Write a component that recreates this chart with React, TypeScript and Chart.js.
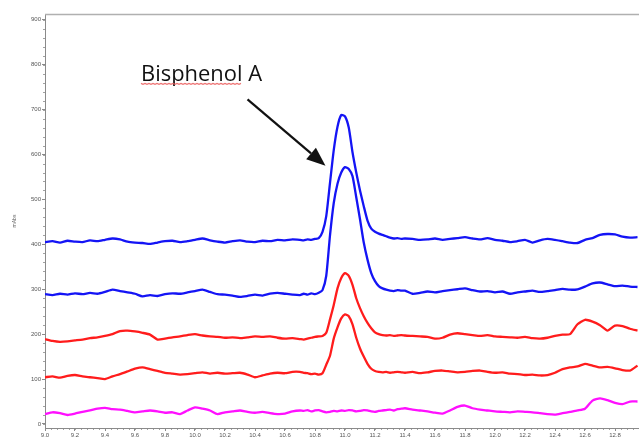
import React, { useEffect, useRef } from "react";
import { Chart, registerables } from "chart.js";

Chart.register(...registerables);

const times = [
  9.0, 9.05, 9.1, 9.15, 9.2, 9.25, 9.3, 9.35, 9.4, 9.45,
  9.5, 9.55, 9.6, 9.65, 9.7, 9.75, 9.8, 9.85, 9.9, 9.95,
  10.0, 10.05, 10.1, 10.15, 10.2, 10.25, 10.3, 10.35, 10.4, 10.45,
  10.5, 10.55, 10.6, 10.65,
  10.7, 10.725, 10.75, 10.775, 10.8, 10.825, 10.85, 10.875, 10.9, 10.925,
  10.95, 10.975, 11.0, 11.025, 11.05, 11.075, 11.1, 11.125, 11.15, 11.175,
  11.2, 11.225, 11.25, 11.275, 11.3, 11.325, 11.35, 11.375,
  11.4, 11.45, 11.5, 11.55, 11.6, 11.65, 11.7, 11.75, 11.8, 11.85,
  11.9, 11.95, 12.0, 12.05, 12.1, 12.15, 12.2, 12.25, 12.3, 12.35,
  12.4, 12.45, 12.5, 12.55, 12.6, 12.65, 12.7, 12.75, 12.8, 12.85,
  12.9, 12.95,
];

const blueTop = [
  405, 407, 404, 408, 406, 405, 409, 407, 410, 413,
  411, 406, 404, 403, 401, 404, 407, 408, 405, 407,
  410, 413, 409, 406, 404, 407, 409, 406, 405, 408,
  407, 410, 409, 411,
  410, 409, 411, 410, 412, 414, 428, 463, 537, 610,
  662, 688, 685, 660, 605, 560, 520, 485, 453, 435,
  428, 424, 421, 418, 415, 413, 414, 412,
  413, 412, 410, 411, 413, 410, 412, 414, 416, 413,
  411, 414, 410, 408, 405, 407, 410, 404, 409, 412,
  410, 407, 404, 403, 410, 414, 421, 423, 422, 417,
  415, 416,
];

const blueLower = [
  289, 287, 290, 288, 291, 289, 292, 290, 294, 299,
  296, 293, 290, 284, 287, 285, 289, 291, 290, 293,
  296, 299, 294, 289, 288, 286, 283, 285, 288, 286,
  290, 292, 290, 288,
  287, 290, 288, 291, 289, 292, 298, 330, 420, 492,
  535, 560, 572, 568, 552, 505, 456, 404, 366, 336,
  318, 307, 302, 299, 297, 296, 298, 297,
  297, 290, 292, 295, 293, 296, 298, 300, 302, 298,
  295, 296, 293, 295, 290, 293, 295, 297, 294, 296,
  298, 301, 299, 300, 306, 313, 315, 311, 307, 308,
  306, 305,
];

const redUpper = [
  189, 185, 183, 184, 186, 188, 191, 193, 196, 200,
  207, 208, 206, 203, 199, 188, 190, 193, 195, 198,
  200, 197, 195, 194, 192, 193, 191, 193, 195, 194,
  195, 192, 190, 191,
  189, 188, 190, 192, 194, 195, 196, 203, 233, 265,
  302, 325, 336, 330, 310, 280, 258, 240, 225, 213,
  204, 200, 198, 197, 198, 196, 197, 198,
  197, 196, 195, 194, 190, 192, 199, 202, 200, 198,
  196, 198, 195, 194, 193, 192, 194, 191, 190, 192,
  196, 199, 200, 222, 232, 228, 220, 208, 219, 218,
  212, 208,
];

const redLower = [
  104, 106, 103, 107, 109, 106, 104, 102, 100, 106,
  111, 117, 123, 126, 122, 118, 114, 112, 110, 111,
  113, 115, 112, 114, 112, 113, 114, 110, 104, 108,
  112, 114, 113, 116,
  116, 114, 113, 111, 112, 110, 113, 132, 152, 190,
  215, 235, 244, 240, 222, 192, 168, 150, 134, 123,
  118, 116, 115, 116, 114, 115, 116, 115,
  114, 116, 113, 115, 118, 119, 117, 115, 116, 118,
  119, 116, 114, 115, 112, 111, 109, 110, 108, 109,
  114, 122, 126, 128, 134, 130, 126, 127, 124, 120,
  119, 130,
];

const magenta = [
  22, 26, 24, 20, 23, 27, 30, 34, 36, 33,
  32, 29, 26, 28, 30, 28, 25, 26, 22, 30,
  37, 34, 30, 22, 26, 28, 30, 27, 25, 27,
  24, 22, 23, 28,
  30, 29, 31, 28, 30, 31, 28, 26, 27, 29,
  28, 30, 29, 31, 30, 28, 29, 31, 30, 28,
  27, 29, 30, 31, 32, 30, 33, 34,
  35, 32, 30, 28, 25, 23, 30, 38, 41, 35,
  32, 30, 28, 27, 26, 28, 27, 26, 24, 22,
  21, 24, 27, 30, 34, 52, 57, 53, 47, 44,
  50, 50,
];

const yTicks = [0, 100, 200, 300, 400, 500, 600, 700, 800, 900];
const xTicks = [
  9.0, 9.2, 9.4, 9.6, 9.8, 10.0, 10.2, 10.4, 10.6, 10.8,
  11.0, 11.2, 11.4, 11.6, 11.8, 12.0, 12.2, 12.4, 12.6, 12.8,
];

const annotationText = "Bisphenol A";
const annotationTextPos = { x: 9.64, y: 764 };
const arrowStart = { x: 10.35, y: 723 };
const arrowTip = { x: 10.87, y: 575 };
const yTitle = "mAbs";

const series = [
  { label: "S1", data: blueTop, color: "#1414f5" },
  { label: "S2", data: blueLower, color: "#1414f5" },
  { label: "S3", data: redUpper, color: "#ff1c1c" },
  { label: "S4", data: redLower, color: "#ff1c1c" },
  { label: "S5", data: magenta, color: "#ff10ff" },
];

const decorPlugin = {
  id: "decor",
  afterDraw(chart: any) {
    const { ctx, chartArea, scales } = chart;
    const xs = scales.x;
    const ys = scales.y;
    ctx.save();
    ctx.strokeStyle = "#b0b0b0";
    ctx.lineWidth = 1.5;
    ctx.beginPath();
    ctx.moveTo(chartArea.left, chartArea.top + 0.5);
    ctx.lineTo(chartArea.right, chartArea.top + 0.5);
    ctx.stroke();
    ctx.strokeStyle = "#8a8a8a";
    ctx.lineWidth = 0.8;
    ctx.beginPath();
    for (let v = 0; v <= 900; v += 20) {
      const py = Math.round(ys.getPixelForValue(v)) + 0.5;
      ctx.moveTo(chartArea.left - 2, py);
      ctx.lineTo(chartArea.left, py);
    }
    for (let i = 0; i <= 99; i++) {
      const t = 9 + i * 0.04;
      if (t > xs.max) break;
      const px = Math.round(xs.getPixelForValue(t)) + 0.5;
      ctx.moveTo(px, chartArea.bottom);
      ctx.lineTo(px, chartArea.bottom + 2);
    }
    ctx.stroke();
    ctx.fillStyle = "#666";
    ctx.font = "5px 'Liberation Sans'";
    ctx.textAlign = "center";
    ctx.textBaseline = "middle";
    ctx.translate(15, 221);
    ctx.rotate(-Math.PI / 2);
    ctx.fillText(yTitle, 0, 0);
    ctx.restore();

    ctx.save();
    const tx = xs.getPixelForValue(annotationTextPos.x);
    const ty = ys.getPixelForValue(annotationTextPos.y);
    ctx.font = "21px 'Open Sans'";
    ctx.fillStyle = "#111";
    ctx.textAlign = "left";
    ctx.textBaseline = "alphabetic";
    const full = ctx.measureText(annotationText).width;
    const target = 121;
    ctx.translate(tx, ty);
    ctx.scale(target / full, 1);
    ctx.fillText(annotationText, 0, 0);
    const wordW = ctx.measureText("Bisphenol").width;
    ctx.restore();
    ctx.save();
    const uw = wordW * (target / full);
    ctx.strokeStyle = "rgba(235,90,90,0.85)";
    ctx.lineWidth = 1.2;
    ctx.beginPath();
    for (let k = 0; k <= uw; k += 2) {
      const py = ty + 2.5 + (Math.floor(k / 2) % 2 === 0 ? 0 : 1);
      if (k === 0) ctx.moveTo(tx + k, py);
      else ctx.lineTo(tx + k, py);
    }
    ctx.stroke();

    const sx = xs.getPixelForValue(arrowStart.x);
    const sy = ys.getPixelForValue(arrowStart.y);
    const ex = xs.getPixelForValue(arrowTip.x);
    const ey = ys.getPixelForValue(arrowTip.y);
    const ang = Math.atan2(ey - sy, ex - sx);
    const headLen = 19;
    const headHalf = 7.5;
    const bx = ex - headLen * Math.cos(ang);
    const by = ey - headLen * Math.sin(ang);
    ctx.strokeStyle = "#111";
    ctx.fillStyle = "#111";
    ctx.lineWidth = 2.2;
    ctx.beginPath();
    ctx.moveTo(sx, sy);
    ctx.lineTo(bx, by);
    ctx.stroke();
    ctx.beginPath();
    ctx.moveTo(ex, ey);
    ctx.lineTo(bx + headHalf * Math.sin(ang), by - headHalf * Math.cos(ang));
    ctx.lineTo(bx - headHalf * Math.sin(ang), by + headHalf * Math.cos(ang));
    ctx.closePath();
    ctx.fill();
    ctx.restore();
  },
};

export default function App() {
  const ref = useRef<HTMLCanvasElement | null>(null);
  useEffect(() => {
    if (!ref.current) return;
    const chart = new Chart(ref.current, {
      type: "line",
      data: {
        datasets: series.map((s) => ({
          label: s.label,
          data: times.map((t, i) => ({ x: t, y: s.data[i] })),
          borderColor: s.color,
          backgroundColor: s.color,
          borderWidth: 2.3,
          pointRadius: 0,
          tension: 0.2,
          fill: false,
          borderJoinStyle: "round" as const,
        })),
      },
      options: {
        animation: false,
        responsive: false,
        events: [],
        layout: { padding: { top: 14, right: 0, left: 0, bottom: 0 } },
        plugins: {
          legend: { display: false },
          tooltip: { enabled: false },
          title: { display: false },
        },
        scales: {
          x: {
            type: "linear",
            min: 9.0,
            max: 12.96,
            afterFit: (scale: any) => {
              scale.height = 10;
            },
            afterBuildTicks: (scale: any) => {
              scale.ticks = xTicks.map((v) => ({ value: v }));
            },
            grid: {
              drawOnChartArea: false,
              drawTicks: true,
              tickLength: 3,
              color: "#8a8a8a",
            },
            border: { display: true, color: "#8a8a8a", width: 1 },
            ticks: {
              padding: 1,
              maxRotation: 0,
              autoSkip: false,
              color: "#555",
              font: { size: 6, family: "'Liberation Sans'" },
              callback: (v: any) => Number(v).toFixed(1),
            },
          },
          y: {
            type: "linear",
            min: -9,
            max: 913,
            afterFit: (scale: any) => {
              scale.width = 45;
            },
            afterBuildTicks: (scale: any) => {
              scale.ticks = yTicks.map((v) => ({ value: v }));
            },
            grid: {
              drawOnChartArea: false,
              drawTicks: true,
              tickLength: 3,
              color: "#8a8a8a",
            },
            border: { display: true, color: "#8a8a8a", width: 1 },
            ticks: {
              padding: 1,
              autoSkip: false,
              color: "#555",
              font: { size: 6, family: "'Liberation Sans'" },
              callback: (v: any) => String(v),
            },
          },
        },
      },
      plugins: [decorPlugin],
    } as any);
    return () => chart.destroy();
  }, []);
  return (
    <div style={{ position: "fixed", left: 0, top: 0, width: 639, height: 438, background: "#fff" }}>
      <canvas ref={ref} width={639} height={438} style={{ display: "block" }} />
    </div>
  );
}
